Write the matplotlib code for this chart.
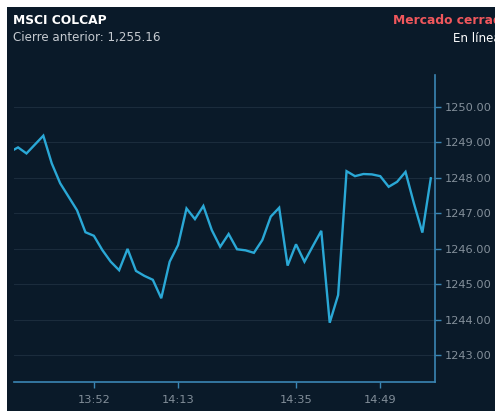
import numpy as np
import matplotlib
matplotlib.use("Agg")
import matplotlib.pyplot as plt
from matplotlib.patches import Rectangle

# index values (one point every few minutes)
values = [1248.72, 1248.85, 1248.68, 1248.93, 1249.18, 1248.40, 1247.84, 1247.46,
          1247.08, 1246.46, 1246.36, 1245.96, 1245.63, 1245.39, 1245.99, 1245.37,
          1245.23, 1245.12, 1244.60, 1245.63, 1246.10, 1247.13, 1246.83, 1247.20,
          1246.52, 1246.05, 1246.41, 1245.98, 1245.95, 1245.88, 1246.24, 1246.90,
          1247.15, 1245.52, 1246.12, 1245.63, 1246.07, 1246.50, 1243.91, 1244.69,
          1248.18, 1248.04, 1248.10, 1248.09, 1248.04, 1247.74, 1247.88, 1248.16,
          1247.27, 1246.45, 1247.98]
tick_pos = [10, 20, 34, 44]
tick_labels = ["13:52", "14:13", "14:35", "14:49"]
y_ticks = [1243, 1244, 1245, 1246, 1247, 1248, 1249, 1250]

bg = "#0a1a29"
line_col = "#2aa8d6"
axis_col = "#3b86b4"
grid_col = "#1b2c3c"
label_col = "#838f9a"

plt.rcParams['font.family'] = ['DejaVu Sans']

W, H = 495, 411
fig = plt.figure(figsize=(W / 100, H / 100), dpi=100, facecolor="white")
fig.patches.append(Rectangle((7 / W, 0), 1 - 7 / W, 1 - 7 / H, transform=fig.transFigure,
                             facecolor=bg, edgecolor="none", zorder=-10))

ax = fig.add_axes([13.5 / W, 1 - 382 / H, (435 - 13.5) / W, (382 - 75) / H])
ax.set_zorder(1)
ax.set_facecolor(bg)
x = np.arange(len(values))
ax.plot(x, values, color=line_col, lw=1.7, solid_joinstyle="miter", zorder=3)

ax.set_xlim(0.46, 50.5)
ax.set_ylim(1242.24, 1250.89)

ax.yaxis.tick_right()
ax.set_yticks(y_ticks)
ax.set_yticklabels([f"{v:.2f}" for v in y_ticks])
ax.set_xticks(tick_pos)
ax.set_xticklabels(tick_labels)
ax.tick_params(axis="y", colors=label_col, labelsize=8.2, length=4, width=1,
               color=axis_col, pad=3)
ax.tick_params(axis="x", colors=label_col, labelsize=8.2, length=4, width=1,
               color=axis_col, pad=5)
ax.grid(axis="y", color=grid_col, lw=0.8)
ax.grid(axis="x", visible=False)

for s in ["top", "left"]:
    ax.spines[s].set_visible(False)
for s in ["right", "bottom"]:
    ax.spines[s].set_color(axis_col)
    ax.spines[s].set_linewidth(1.2)

fig.text(13 / W, 1 - 20 / H, "MSCI COLCAP", color="white", fontsize=8.8,
         fontweight="bold", va="center", ha="left")
fig.text(13 / W, 1 - 38 / H, "Cierre anterior: 1,255.16", color="#c5cad0",
         fontsize=8.6, va="center", ha="left")
fig.text(393 / W, 1 - 20 / H, "Mercado cerrado", color="#f0575c", fontsize=8.8,
         fontweight="bold", va="center", ha="left")
fig.text(453 / W, 1 - 38 / H, "En línea", color="white", fontsize=8.6,
         va="center", ha="left")

fig.savefig("out.png", dpi=100, facecolor="white")
